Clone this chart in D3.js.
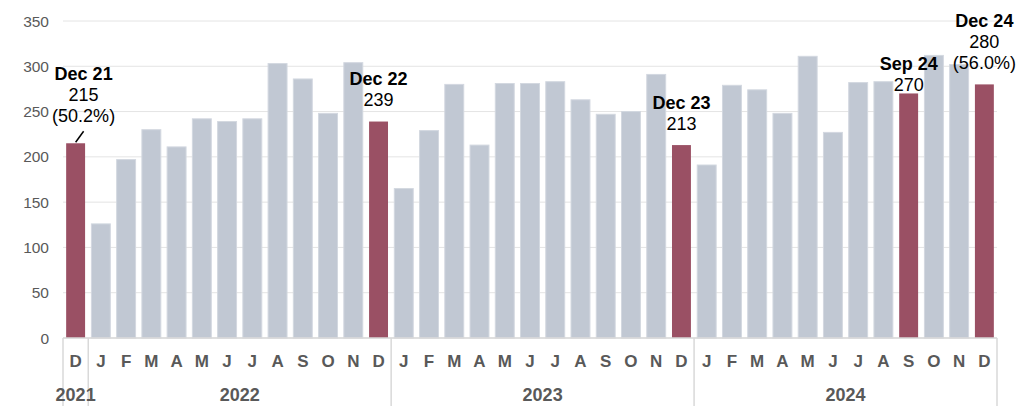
<!DOCTYPE html>
<html>
<head>
<meta charset="utf-8">
<script src="https://cdn.jsdelivr.net/npm/d3@7"></script>
<style>
  body { margin: 0; background: #fff; }
  svg { display: block; font-family: "Liberation Sans", Arial, sans-serif; }
</style>
</head>
<body>
<svg id="chart" width="1036" height="406"></svg>
<script>
// month letters, Dec 2021 .. Dec 2024
var monthLabels = ["D",
  "J","F","M","A","M","J","J","A","S","O","N","D",
  "J","F","M","A","M","J","J","A","S","O","N","D",
  "J","F","M","A","M","J","J","A","S","O","N","D"];
var values = [215,
  126,197,230,211,242,239,242,303,286,248,304,239,
  165,229,280,213,281,281,283,263,247,250,291,213,
  191,279,274,248,311,227,282,283,270,312,302,280];
var years = ["2021","2022","2023","2024"];
var yearStart = [0, 1, 13, 25];
var yearEnd = [1, 13, 25, 37];
var yTicks = [0,50,100,150,200,250,300,350];
// highlighted bars and their callouts
var hlIndex = [0, 12, 24, 33, 36];
var hlName = ["Dec 21","Dec 22","Dec 23","Sep 24","Dec 24"];
var hlShare = ["(50.2%)", null, null, null, "(56.0%)"];

var svg = d3.select("#chart")
var plotL = 63, plotR = 997, plotT = 21, plotB = 338

var x = d3.scaleBand()
  .domain(d3.range(values.length))
  .range([plotL, plotR])
  .paddingInner(0.25)
  .paddingOuter(0.125)
var y = d3.scaleLinear().domain([0, 350]).range([plotB, plotT])
var step = x.step()

// gridlines + y labels
svg.append("g").selectAll("line")
  .data(yTicks).join("line")
  .attr("x1", plotL).attr("x2", plotR)
  .attr("y1", d => y(d)).attr("y2", d => y(d))
  .attr("stroke", "#e4e4e4").attr("stroke-width", 1)
svg.append("g").selectAll("text")
  .data(yTicks).join("text")
  .attr("x", 49).attr("y", d => y(d)).attr("dy", "0.36em")
  .attr("text-anchor", "end")
  .attr("font-size", 15.5).attr("fill", "#595959")
  .text(d => d)

// bars
svg.append("g").selectAll("rect")
  .data(values).join("rect")
  .attr("x", (d, i) => x(i))
  .attr("y", d => y(d))
  .attr("width", x.bandwidth())
  .attr("height", d => plotB - y(d))
  .attr("fill", (d, i) => hlIndex.indexOf(i) >= 0 ? "#9a5064" : "#c1c8d3")
  .attr("stroke", (d, i) => hlIndex.indexOf(i) >= 0 ? "none" : "#d3d8e0")
  .attr("stroke-width", 1)

// x axis line and group separators
svg.append("line")
  .attr("x1", plotL).attr("x2", plotR).attr("y1", plotB).attr("y2", plotB)
  .attr("stroke", "#d9d9d9").attr("stroke-width", 1.5)
var seps = yearStart.concat([values.length])
svg.append("g").selectAll("line")
  .data(seps).join("line")
  .attr("x1", d => plotL + d * step).attr("x2", d => plotL + d * step)
  .attr("y1", plotB).attr("y2", 406)
  .attr("stroke", "#d9d9d9").attr("stroke-width", 1.5)

// month letters
svg.append("g").selectAll("text")
  .data(monthLabels).join("text")
  .attr("x", (d, i) => x(i) + x.bandwidth() / 2)
  .attr("y", 367)
  .attr("text-anchor", "middle")
  .attr("font-size", 17).attr("font-weight", "bold").attr("fill", "#595959")
  .text(d => d)

// year labels
svg.append("g").selectAll("text")
  .data(years).join("text")
  .attr("x", (d, i) => plotL + (yearStart[i] + yearEnd[i]) / 2 * step)
  .attr("y", 401)
  .attr("text-anchor", "middle")
  .attr("font-size", 18).attr("font-weight", "bold").attr("fill", "#595959")
  .text(d => d)

// callouts: gap between last text line and bar top
var gap = [21, 15.5, 15, 2, 15.5]
var lineH = 21
hlIndex.forEach(function(idx, k) {
  var cx = x(idx) + x.bandwidth() / 2
  var lines = [hlName[k], String(values[idx])]
  if (hlShare[k]) lines.push(hlShare[k])
  if (k == 0) cx += 8
  var lastBase = y(values[idx]) - gap[k]
  var g = svg.append("g")
  lines.forEach(function(t, j) {
    g.append("text")
      .attr("x", cx)
      .attr("y", lastBase - (lines.length - 1 - j) * lineH)
      .attr("text-anchor", "middle")
      .attr("font-size", 18)
      .attr("font-weight", j == 0 ? "bold" : "normal")
      .attr("fill", "#000")
      .text(t)
  })
  if (k == 0) {
    g.append("line")
      .attr("x1", cx - 8).attr("y1", y(values[idx]) - 1)
      .attr("x2", cx).attr("y2", y(values[idx]) - 12)
      .attr("stroke", "#000").attr("stroke-width", 1.5)
  }
})
</script>
</body>
</html>
